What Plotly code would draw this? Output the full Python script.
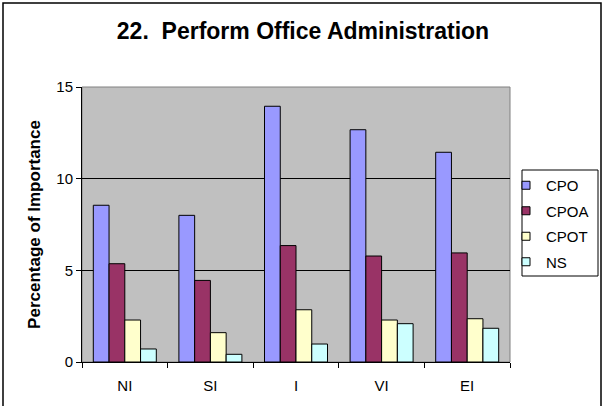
import plotly.graph_objects as go

# categories and series
categories = ["NI", "SI", "I", "VI", "EI"]
cpo = [8.55, 8.0, 13.95, 12.67, 11.44]
cpoa = [5.36, 4.45, 6.35, 5.78, 5.95]
cpot = [2.29, 1.6, 2.85, 2.29, 2.36]
ns = [0.71, 0.42, 0.98, 2.09, 1.84]

series_names = ["CPO", "CPOA", "CPOT", "NS"]
series_colors = ["#9999FF", "#993366", "#FFFFCC", "#CCFFFF"]

FONT = "Arial, 'Liberation Sans', sans-serif"

# plot area in pixels (left, right, top, bottom)
PL, PR, PT, PB = 82, 510, 87, 362
W, H = 605, 406


def px_x(x):
    return (x - PL) / (PR - PL)


def px_y(y):
    return (PB - y) / (PB - PT)


def create_figure():
    fig = go.Figure()

    for name, values, color in zip(series_names, [cpo, cpoa, cpot, ns], series_colors):
        fig.add_trace(
            go.Bar(
                x=categories,
                y=values,
                name=name,
                legendgroup=name,
                showlegend=False,
                marker=dict(color=color, line=dict(color="black", width=1)),
            )
        )
        # small square legend entry, tied to the bars via legendgroup
        fig.add_trace(
            go.Scatter(
                x=[None],
                y=[None],
                mode="markers",
                name=name,
                legendgroup=name,
                marker=dict(symbol="square", size=8, color=color,
                            line=dict(color="black", width=1)),
            )
        )

    fig.update_layout(
        width=W,
        height=H,
        margin=dict(l=PL, r=W - PR, t=PT, b=H - PB, autoexpand=False),
        paper_bgcolor="white",
        plot_bgcolor="#C0C0C0",
        barmode="group",
        bargap=0.264,
        bargroupgap=0,
        font=dict(family=FONT, size=15, color="black"),
        title=dict(
            text="<b>22.  Perform Office Administration</b>",
            font=dict(family=FONT, size=23, color="black"),
            x=303 / W,
            xref="container",
            xanchor="center",
            y=1 - 31 / H,
            yref="container",
            yanchor="middle",
        ),
        legend=dict(
            x=px_x(506),
            y=px_y(169),
            xanchor="left",
            yanchor="top",
            borderwidth=0,
            bgcolor="rgba(0,0,0,0)",
            font=dict(family=FONT, size=15, color="black"),
            traceorder="grouped",
            tracegroupgap=3,
            itemwidth=30,
        ),
        showlegend=True,
    )

    fig.update_xaxes(
        type="category",
        showgrid=False,
        ticks="outside",
        tickson="boundaries",
        ticklen=5,
        tickcolor="black",
        showline=True,
        linecolor="black",
        tickfont=dict(family=FONT, size=15, color="black"),
        ticklabelstandoff=10,
    )

    fig.update_yaxes(
        range=[0, 15],
        dtick=5,
        showgrid=True,
        gridcolor="black",
        gridwidth=1,
        ticks="outside",
        ticklen=5,
        tickcolor="black",
        showline=True,
        linecolor="black",
        zeroline=False,
        tickfont=dict(family=FONT, size=15, color="black"),
        title=dict(
            text="<b>Percentage of Importance</b>",
            font=dict(family=FONT, size=17, color="black"),
            standoff=11,
        ),
    )

    # grey frame on the top and right of the plot area
    fig.add_shape(
        type="rect", xref="paper", yref="paper",
        x0=0, x1=1, y0=0, y1=1,
        line=dict(color="#808080", width=1),
        layer="below",
    )

    # legend box
    fig.add_shape(
        type="rect", xref="paper", yref="paper",
        x0=px_x(522), x1=px_x(598), y0=px_y(276), y1=px_y(170),
        line=dict(color="black", width=1),
        fillcolor="white",
        layer="below",
    )

    # outer chart border
    fig.add_shape(
        type="rect", xref="paper", yref="paper",
        x0=px_x(3), x1=px_x(601), y0=px_y(410), y1=px_y(3),
        line=dict(color="black", width=1.5),
    )

    return fig


def main():
    fig = create_figure()
    fig.write_html(
        "out.html",
        config={"displayModeBar": False},
        post_script="document.body.style.margin='0';",
    )


if __name__ == "__main__":
    main()
